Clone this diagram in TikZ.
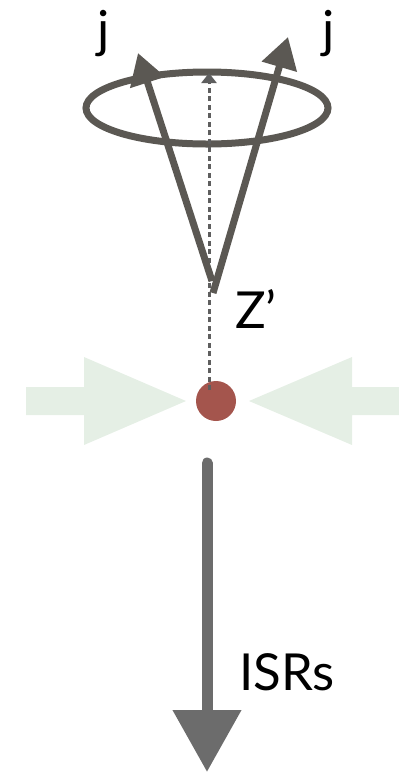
\documentclass[tikz,border=0pt]{standalone}
\usepackage{fontspec}
\setmainfont{Lato}
\usetikzlibrary{arrows.meta}

\begin{document}
\begin{tikzpicture}[
  x=1pt, y=-1pt,
  every node/.style={font=\fontsize{51}{60}\selectfont, text=black, inner sep=0pt},
  spin/.style={-{Triangle[length=31pt,width=35pt]}, line width=7pt, draw=ConeGray},
  axis/.style={-{Triangle[length=10pt,width=15pt]}, line width=3pt, draw=AxisGray,
    dash pattern=on 5pt off 3.5pt},
  beam/.style={fill=BeamGreen},
  isr/.style={-{Triangle[length=62pt,width=66pt]}, line width=11pt, line cap=round, draw=IsrGray}
]
\definecolor{ConeGray}{HTML}{5B5853}
\definecolor{AxisGray}{HTML}{5E5E5E}
\definecolor{BeamGreen}{HTML}{E5EFE5}
\definecolor{IsrGray}{HTML}{6C6C6C}
\definecolor{ZRed}{HTML}{A4554D}

\useasboundingbox (0,0) rectangle (399,772);

\fill[beam] (26,387) -- (84,387) -- (84,357) -- (186,401) -- (84,445) -- (84,415) -- (26,415) -- cycle;
\fill[beam] (399,387) -- (352,387) -- (352,357) -- (249,401) -- (352,445) -- (352,415) -- (399,415) -- cycle;

\node[circle, fill=ZRed, minimum size=40pt] (zp) at (216,401) {};
\coordinate (axisbase) at (209,390);
\coordinate (axistop) at (209,73);

\draw[line width=7pt, draw=ConeGray] (207,108) ellipse [x radius=121pt, y radius=36pt];

\coordinate (apexl) at (212,281);
\coordinate (apexr) at (213,293);
\coordinate (tipl) at (138,53);
\coordinate (tipr) at (288,37);

\draw[axis] (axisbase) -- (axistop);
\draw[spin] (apexl) -- (tipl);
\draw[spin] (apexr) -- (tipr);

\node (jl) at (104,34) {j};
\node (jr) at (329,34) {j};
\node (zlabel) at (256,309) {Z’};

\coordinate (isrtop) at (207,463);
\coordinate (isrtip) at (207,772);
\draw[isr] (isrtop) -- (isrtip);
\node (isrlabel) at (287,672) {ISRs};
\end{tikzpicture}
\end{document}
